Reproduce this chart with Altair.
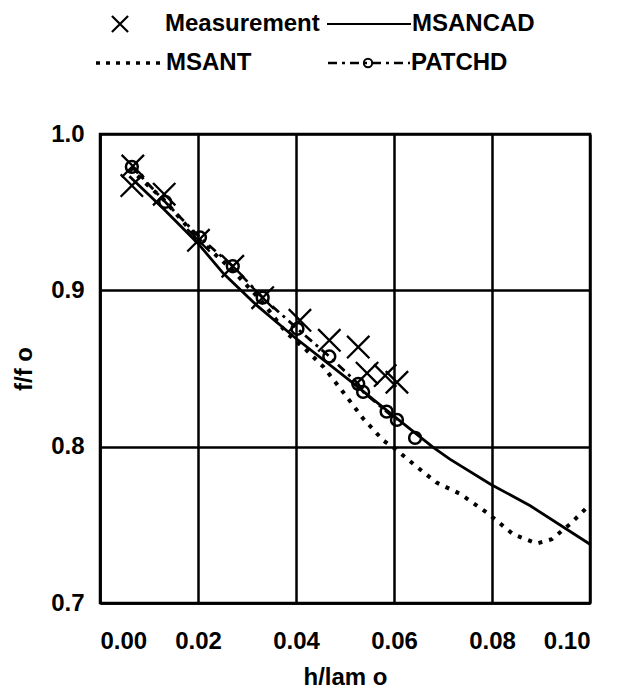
import altair as alt
import pandas as pd

# ---- data ----
meas_x = [0.0067, 0.0065, 0.0131, 0.0201, 0.0271, 0.0332, 0.0408, 0.0468, 0.0527, 0.0545, 0.0582, 0.0606]
meas_y = [0.9795, 0.967, 0.9615, 0.932, 0.9154, 0.8953, 0.8808, 0.868, 0.8637, 0.847, 0.8455, 0.8412]

msancad_x = [0.006, 0.013, 0.020, 0.0252, 0.032, 0.0397, 0.051, 0.0598, 0.068, 0.0714, 0.0797, 0.0878, 0.100]
msancad_y = [0.973, 0.952, 0.930, 0.9107, 0.8904, 0.870, 0.8423, 0.820, 0.7996, 0.792, 0.776, 0.7622, 0.7376]

msant_x = [0.006, 0.013, 0.020, 0.027, 0.033, 0.038, 0.0422, 0.0456, 0.0496, 0.0537, 0.0578, 0.0602,
           0.0643, 0.0687, 0.0735, 0.079, 0.0843, 0.0891, 0.0922, 0.0959, 0.100]
msant_y = [0.978, 0.958, 0.933, 0.913, 0.893, 0.873, 0.8615, 0.851, 0.835, 0.818, 0.804, 0.7987,
           0.788, 0.777, 0.7698, 0.7577, 0.744, 0.738, 0.7408, 0.7504, 0.763]

patchd_x = [0.0065, 0.0133, 0.0204, 0.0271, 0.0332, 0.0403, 0.0468, 0.0527, 0.0537, 0.0585, 0.0606]
patchd_y = [0.979, 0.9566, 0.9338, 0.9154, 0.8953, 0.8754, 0.8577, 0.8402, 0.835, 0.8224, 0.8171]
patchd_pts_x = patchd_x + [0.0643]
patchd_pts_y = patchd_y + [0.8056]

x_ticks = [0.0, 0.02, 0.04, 0.06, 0.08, 0.10]
y_ticks = [0.7, 0.8, 0.9, 1.0]
legend_labels = ["Measurement", "MSANCAD", "MSANT", "PATCHD"]

FONT = "Liberation Sans"
FS = 24
FW = "bold"
XSHAPE = "M-1,-1L1,1M1,-1L-1,1"

xs = alt.Scale(domain=[0, 0.1], nice=False, zero=False)
ys = alt.Scale(domain=[0.7, 1.0], nice=False, zero=False)

common_axis = dict(grid=True, ticks=False,
                   labelFont=FONT, labelFontSize=FS, labelColor="black", labelFontWeight=FW,
                   titleFont=FONT, titleFontSize=FS, titleColor="black", titleFontWeight=FW,
                   domainColor="black", domainWidth=2.5, gridColor="black", gridWidth=2.5,
                   gridOpacity=1)
xax = alt.Axis(values=x_ticks, format=".2f", title="h/lam o", labelPadding=26, titlePadding=12,
               **common_axis)
yax = alt.Axis(values=y_ticks, format=".1f", title="f/f o", labelPadding=16, titlePadding=14,
               **common_axis)

df_cad = pd.DataFrame({"x": msancad_x, "y": msancad_y})
df_ant = pd.DataFrame({"x": msant_x, "y": msant_y})
df_pat = pd.DataFrame({"x": patchd_x, "y": patchd_y})
df_patp = pd.DataFrame({"x": patchd_pts_x, "y": patchd_pts_y})
df_meas = pd.DataFrame({"x": meas_x, "y": meas_y})

base_enc = dict(x=alt.X("x:Q", scale=xs, axis=xax), y=alt.Y("y:Q", scale=ys, axis=yax))

cad = alt.Chart(df_cad).mark_line(color="black", strokeWidth=2.8).encode(**base_enc)
ant = alt.Chart(df_ant).mark_line(color="black", strokeWidth=4, strokeDash=[4, 7]).encode(**base_enc)
pat = alt.Chart(df_pat).mark_line(color="black", strokeWidth=2.8, strokeDash=[9, 5, 3, 5]).encode(**base_enc)
patp = alt.Chart(df_patp).mark_point(shape="circle", filled=False, color="black", size=140,
                                     strokeWidth=2.5, opacity=1).encode(**base_enc)
meas = alt.Chart(df_meas).mark_point(shape=XSHAPE, filled=False, color="black", size=500,
                                     strokeWidth=2.3, opacity=1).encode(**base_enc)

one = pd.DataFrame({"a": [0]})
R1, R2 = -110, -71

def txt(label, xv, yv):
    return alt.Chart(one).mark_text(align="left", baseline="middle", font=FONT, fontSize=FS,
                                    fontWeight=FW, color="black").encode(
        x=alt.value(xv), y=alt.value(yv), text=alt.value(label))

leg = [
    alt.Chart(one).mark_point(shape=XSHAPE, filled=False, color="black", size=260, strokeWidth=2.2,
                              opacity=1).encode(x=alt.value(20), y=alt.value(R1)),
    txt(legend_labels[0], 65, R1),
    alt.Chart(one).mark_rule(color="black", strokeWidth=2).encode(
        x=alt.value(227), x2=alt.value(311), y=alt.value(R1)),
    txt(legend_labels[1], 312, R1),
    alt.Chart(one).mark_rule(color="black", strokeWidth=3.5, strokeDash=[4, 6]).encode(
        x=alt.value(-4), x2=alt.value(62), y=alt.value(R2)),
    txt(legend_labels[2], 66, R2),
    alt.Chart(one).mark_rule(color="black", strokeWidth=2.5, strokeDash=[9, 5, 3, 5]).encode(
        x=alt.value(228), x2=alt.value(310), y=alt.value(R2)),
    alt.Chart(one).mark_point(shape="circle", filled=False, color="black", size=70, strokeWidth=2,
                              opacity=1).encode(x=alt.value(268), y=alt.value(R2)),
    txt(legend_labels[3], 311, R2),
]

chart = alt.layer(cad, ant, pat, patp, meas, *leg).properties(
    width=490, height=469,
    background="white",
    autosize=alt.AutoSizeParams(type="none"),
    padding={"left": 92, "top": 126, "right": 20, "bottom": 86},
).configure_view(stroke="black", strokeWidth=2.5)

chart.save("out.html", embed_options={"renderer": "svg", "actions": False})
